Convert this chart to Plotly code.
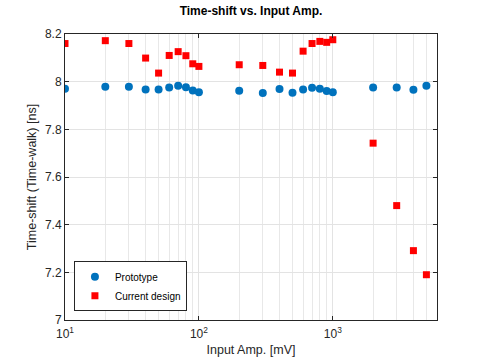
import plotly.graph_objects as go
import math

amp_mv = [10, 20, 30, 40, 50, 60, 70, 80, 90, 100, 200, 300, 400, 500, 600, 700, 800, 900, 1000, 2000, 3000, 4000, 5000]
prototype = [7.970, 7.979, 7.979, 7.967, 7.967, 7.976, 7.983, 7.977, 7.963, 7.956, 7.962, 7.952, 7.969, 7.953, 7.967, 7.974, 7.970, 7.961, 7.956, 7.976, 7.976, 7.966, 7.983]
current = [8.160, 8.172, 8.160, 8.099, 8.036, 8.110, 8.126, 8.109, 8.075, 8.064, 8.071, 8.068, 8.040, 8.036, 8.128, 8.160, 8.169, 8.165, 8.176, 7.742, 7.480, 7.291, 7.190]
x_tickvals = [10, 100, 1000]
x_ticktext = ["10<sup>1</sup>", "10<sup>2</sup>", "10<sup>3</sup>"]
y_tickvals = [7.0, 7.2, 7.4, 7.6, 7.8, 8.0, 8.2]
y_ticktext = ["7", "7.2", "7.4", "7.6", "7.8", "8", "8.2"]

FONT = "Liberation Sans, Arial, sans-serif"
AX = "#262626"

fig = go.Figure()
fig.add_trace(go.Scatter(x=amp_mv, y=prototype, mode="markers", name="Prototype",
                         marker=dict(symbol="circle", size=8, color="#0072BD", line=dict(width=0))))
fig.add_trace(go.Scatter(x=amp_mv, y=current, mode="markers", name="Current design",
                         marker=dict(symbol="square", size=7, color="#FF0000", line=dict(width=0))))

fig.update_layout(
    width=485, height=360,
    margin=dict(l=65, r=48, t=34, b=40, autoexpand=False),
    paper_bgcolor="white", plot_bgcolor="white",
    font=dict(family=FONT, size=12, color=AX),
    title=dict(text="<b>Time-shift vs. Input Amp.</b>", x=0.5, xref="paper", xanchor="center",
               yref="container", y=1 - 7 / 360, yanchor="top",
               font=dict(size=12, color="black")),
    showlegend=True,
    legend=dict(x=0.024, y=0.031, xanchor="left", yanchor="bottom",
                bordercolor=AX, borderwidth=1, bgcolor="white",
                font=dict(size=10, color="black"), itemwidth=30,
                tracegroupgap=0),
)
fig.update_xaxes(
    type="log", range=[1, math.log10(6000)], automargin=False,
    tickvals=x_tickvals, ticktext=x_ticktext, tickfont=dict(size=12),
    ticks="inside", ticklen=4, tickcolor=AX, ticklabelstandoff=3,
    showline=True, linecolor=AX, linewidth=1, mirror="ticks",
    showgrid=True, gridcolor="#e3e3e3", gridwidth=1,
    minor=dict(dtick="D1", showgrid=True, gridcolor="#e8e8e8", ticks=""),
    zeroline=False,
    title=dict(text="Input Amp. [mV]", font=dict(size=12.5, color=AX), standoff=4),
)
fig.update_yaxes(
    range=[7.0, 8.2], automargin=False,
    tickvals=y_tickvals, ticktext=y_ticktext, tickfont=dict(size=12),
    ticks="inside", ticklen=4, tickcolor=AX,
    showline=True, linecolor=AX, linewidth=1, mirror="ticks",
    showgrid=True, gridcolor="#e3e3e3", gridwidth=1,
    zeroline=False,
    title=dict(text="Time-shift (Time-walk) [ns]", font=dict(size=12.5, color=AX), standoff=5),
)

fig.write_html("out.html", config={"displayModeBar": False},
               post_script="document.body.style.margin='0';document.body.style.overflow='hidden';")
